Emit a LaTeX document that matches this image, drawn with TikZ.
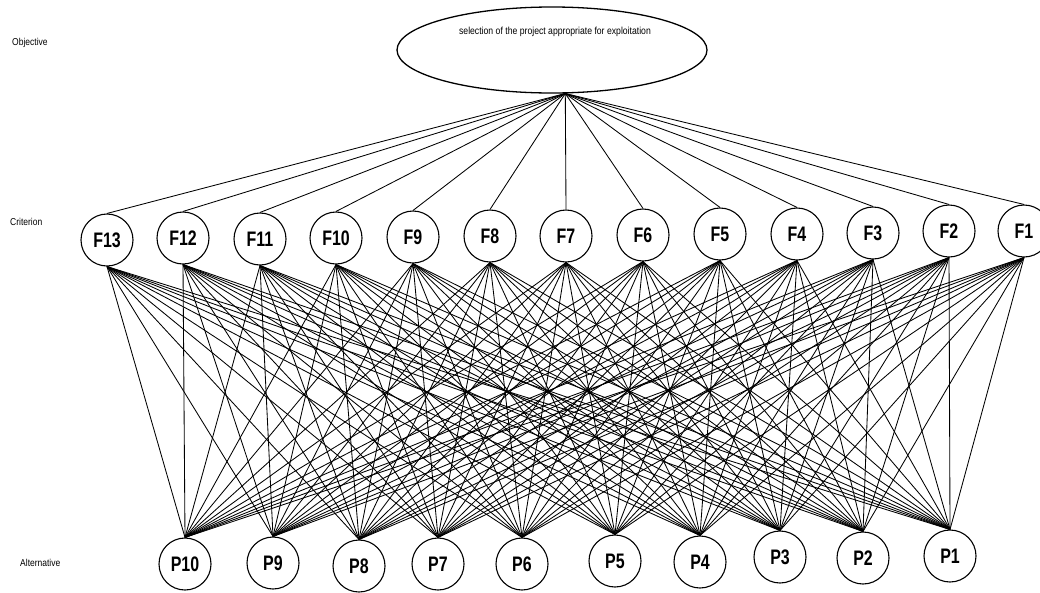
\documentclass[tikz,border=0pt]{standalone}
\usepackage{fontspec}
\setmainfont{Liberation Sans}[FakeStretch=0.85]
\newfontfamily\nodefont{Liberation Sans}[FakeStretch=0.76]
\usetikzlibrary{shapes.geometric}
\begin{document}
\begin{tikzpicture}[x=1pt,y=-1pt,
  crit/.style={circle,draw,line width=1.1pt,minimum size=52pt,inner sep=0pt,
    font=\nodefont\fontsize{21}{21}\selectfont\bfseries},
  alt/.style={circle,draw,line width=1.1pt,minimum size=52pt,inner sep=0pt,
    font=\nodefont\fontsize{21}{21}\selectfont\bfseries},
  conn/.style={line width=0.85pt},
  lvl/.style={font=\fontsize{10}{10}\selectfont,anchor=west,inner sep=0pt},
  goalstyle/.style={draw,ellipse,line width=1.3pt,minimum width=310pt,minimum height=86pt,inner sep=0pt}]
\useasboundingbox (0,0) rectangle (1040,592);
\fill[white] (0,0) rectangle (1040,592);
\node[goalstyle] (goal) at (552,50) {};
\node[font=\fontsize{10.2}{10}\selectfont,inner sep=0pt] (goaltext) at (555,32) {selection of the project appropriate for exploitation};
\node[lvl] (lobj) at (12,43) {Objective};
\node[lvl] (lcrit) at (10,222) {Criterion};
\node[lvl] (lalt) at (20,563) {Alternative};
\foreach \n/\x/\y in {13/107/240,12/183/238,11/260/239,10/336/238,9/413/237,8/490/236,7/566/236,6/643/235,5/720/234,4/797/234,3/873/233,2/949/231,1/1024/231}
  \node[crit] (F\n) at (\x,\y) {F\n};
\foreach \n/\x/\y in {10/185/564,9/273/563,8/359/566,7/438/564,6/522/564,5/615/561,4/700/562,3/780/557,2/863/558,1/950/556}
  \node[alt] (P\n) at (\x,\y) {P\n};
\foreach \n in {1,...,13}
  \draw[conn] (goal.-73) -- (F\n.north);
\foreach \f in {1,...,13}
  \foreach \p in {1,...,10}
    \draw[conn] (F\f.south) -- (P\p.north);
\end{tikzpicture}
\end{document}
